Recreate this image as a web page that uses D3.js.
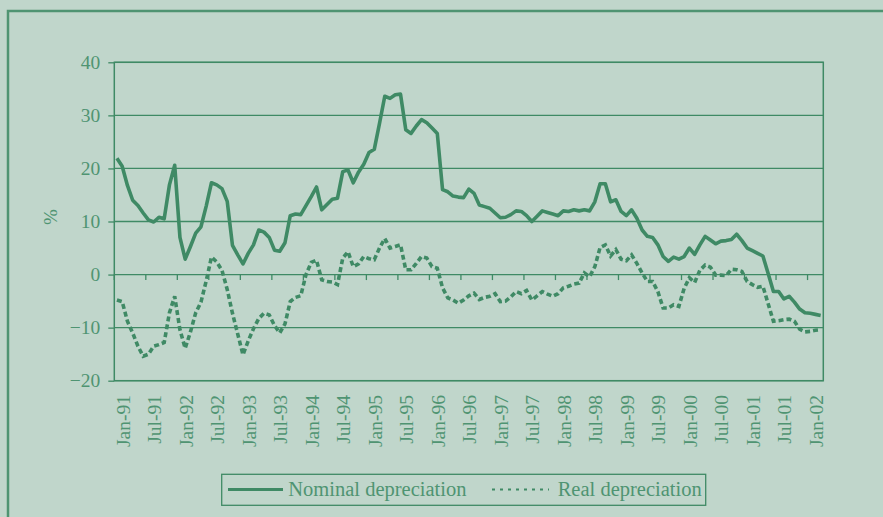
<!DOCTYPE html>
<html>
<head>
<meta charset="utf-8">
<script src="https://cdn.jsdelivr.net/npm/d3@7"></script>
<style>
  body { margin: 0; background: #c0d6cb; }
  text { font-family: "Liberation Serif", "Times New Roman", serif; }
</style>
</head>
<body>
<div id="chart"></div>
<script>
// monthly categories, Jan-91 .. Mar-02
var months = d3.timeMonth.range(new Date(1991, 0, 1), new Date(2002, 3, 1));
var fmt = d3.timeFormat("%b-%y");

var nominal = [
  21.9, 20.4, 16.8, 14.0, 13.0, 11.6, 10.3, 9.9, 10.8, 10.5, 16.9, 20.6,
  7.0, 2.9, 5.3, 7.8, 9.0, 12.9, 17.3, 16.9, 16.2, 13.8, 5.5, 3.7,
  2.0, 4.0, 5.6, 8.4, 8.0, 7.0, 4.6, 4.4, 6.0, 11.1, 11.4, 11.3,
  13.0, 14.7, 16.5, 12.2, 13.2, 14.2, 14.4, 19.4, 19.7, 17.3, 19.3, 20.8,
  23.0, 23.6, 28.5, 33.6, 33.2, 33.9, 34.0, 27.3, 26.6, 28.0, 29.2, 28.6,
  27.6, 26.6, 16.0, 15.6, 14.8, 14.6, 14.5, 16.1, 15.3, 13.1, 12.8, 12.5,
  11.6, 10.7, 10.8, 11.3, 12.0, 11.9, 11.1, 10.0, 11.0, 12.0, 11.7, 11.4,
  11.1, 12.0, 11.9, 12.2, 12.0, 12.2, 12.0, 13.7, 17.1, 17.1, 13.7, 14.1,
  11.9, 11.1, 12.2, 10.6, 8.4, 7.2, 7.0, 5.6, 3.4, 2.5, 3.3, 2.9,
  3.4, 5.0, 3.8, 5.6, 7.2, 6.5, 5.8, 6.3, 6.4, 6.6, 7.6, 6.4,
  5.0, 4.5, 4.0, 3.5, 0.2, -3.2, -3.2, -4.6, -4.1, -5.2, -6.5, -7.2,
  -7.3, -7.5, -7.7
];

var real = [
  -4.8, -5.1, -8.8, -11.0, -13.5, -15.4, -15.0, -13.5, -13.2, -12.8, -7.2, -4.1,
  -10.4, -13.9, -10.8, -7.2, -5.2, -1.2, 3.3, 2.4, 0.8, -2.8, -7.3, -11.2,
  -15.1, -12.5, -10.2, -8.3, -7.3, -7.6, -9.6, -11.0, -9.3, -5.1, -4.3, -4.0,
  0.0, 2.3, 2.7, -1.0, -1.3, -1.4, -1.9, 3.1, 4.3, 1.5, 2.0, 3.4,
  3.0, 2.8, 5.0, 6.8, 5.0, 5.3, 5.6, 0.9, 0.9, 2.1, 3.4, 3.1,
  1.5, 1.2, -2.5, -4.4, -4.8, -5.4, -4.8, -4.0, -3.5, -4.7, -4.3, -4.1,
  -3.6, -5.1, -5.0, -4.2, -3.2, -3.6, -3.0, -4.8, -4.0, -3.2, -3.7, -4.1,
  -3.6, -2.5, -2.2, -1.8, -1.6, 0.3, -0.4, 1.5, 5.1, 5.6, 3.5, 4.7,
  2.9, 2.6, 3.7, 2.1, 0.3, -1.3, -1.3, -3.2, -6.3, -6.3, -5.7, -6.0,
  -2.6, -0.6, -1.5, 0.8, 1.8, 1.4, -0.1, -0.1, -0.2, 1.0, 0.9, 0.6,
  -1.3, -1.9, -2.4, -2.2, -5.5, -8.8, -8.7, -8.5, -8.4, -8.8, -10.3, -10.8,
  -10.7, -10.5, -10.4
];

var yTicks = [-20, -10, 0, 10, 20, 30, 40];
var tickMonths = months.filter(function (d, i) { return i % 6 === 0; });
var seriesNames = ["Nominal depreciation", "Real depreciation"];

var width = 883, height = 517;
var lineColor = "#3f8a65";
var textColor = "#4f9472";

var svg = d3.select("#chart").append("svg")
    .attr("width", width)
    .attr("height", height);

// outer frame
svg.append("rect")
    .attr("x", 8).attr("y", 11)
    .attr("width", 920).attr("height", 540)
    .attr("fill", "none")
    .attr("stroke", "#4f9472")
    .attr("stroke-width", 2.5);

var x = d3.scaleBand()
    .domain(months)
    .range([114.3, 823.3]);

var y = d3.scaleLinear()
    .domain([-20, 40])
    .range([380.7, 62.3]);

function cx(d) { return x(d) + x.bandwidth() / 2; }

// gridlines
svg.selectAll(".grid")
    .data(yTicks)
    .enter().append("line")
    .attr("x1", 114.3).attr("x2", 823.3)
    .attr("y1", function (d) { return y(d); })
    .attr("y2", function (d) { return y(d); })
    .attr("stroke", lineColor)
    .attr("stroke-width", 1.3);

// plot border
svg.append("rect")
    .attr("x", 114.3).attr("y", 62.3)
    .attr("width", 709).attr("height", 318.4)
    .attr("fill", "none")
    .attr("stroke", lineColor)
    .attr("stroke-width", 1.5);

// y axis
var yAxis = svg.append("g")
    .attr("transform", "translate(114.3,0)")
    .call(d3.axisLeft(y).tickValues(yTicks).tickSize(6).tickPadding(8));
yAxis.select(".domain").remove();
yAxis.selectAll("line").attr("stroke", lineColor).attr("stroke-width", 1.3);
yAxis.selectAll("text")
    .attr("fill", textColor)
    .style("font-family", "Liberation Serif")
    .style("font-size", "19.5px");

svg.append("text")
    .attr("transform", "translate(50,217) rotate(-90)")
    .attr("text-anchor", "middle")
    .attr("dy", "0.35em")
    .attr("fill", textColor)
    .style("font-size", "19px")
    .text("%");

// category tick marks on the zero line
svg.selectAll(".xtick")
    .data(tickMonths)
    .enter().append("line")
    .attr("x1", function (d) { return x(d); })
    .attr("x2", function (d) { return x(d); })
    .attr("y1", y(0))
    .attr("y2", y(0) + 5.5)
    .attr("stroke", lineColor)
    .attr("stroke-width", 1.3);

// category labels
svg.selectAll(".xlab")
    .data(tickMonths)
    .enter().append("text")
    .attr("transform", function (d) { return "translate(" + (cx(d) + 6) + ",395) rotate(-90)"; })
    .attr("text-anchor", "end")
    .attr("dy", "0.35em")
    .attr("fill", textColor)
    .style("font-size", "19.5px")
    .text(function (d) { return fmt(d); });

// lines
var line = d3.line()
    .x(function (d, i) { return cx(months[i]); })
    .y(function (d) { return y(d); });

svg.append("path")
    .datum(real)
    .attr("d", line)
    .attr("fill", "none")
    .attr("stroke", lineColor)
    .attr("stroke-width", 3.6)
    .attr("stroke-dasharray", "5,3");

svg.append("path")
    .datum(nominal)
    .attr("d", line)
    .attr("fill", "none")
    .attr("stroke", lineColor)
    .attr("stroke-width", 3.6)
    .attr("stroke-linejoin", "round");

// legend
svg.append("rect")
    .attr("x", 221.7).attr("y", 474.3)
    .attr("width", 484).attr("height", 31)
    .attr("fill", "none")
    .attr("stroke", lineColor)
    .attr("stroke-width", 1.3);

svg.append("line")
    .attr("x1", 228).attr("x2", 283)
    .attr("y1", 489.5).attr("y2", 489.5)
    .attr("stroke", lineColor)
    .attr("stroke-width", 3);

svg.append("line")
    .attr("x1", 492).attr("x2", 549)
    .attr("y1", 489.5).attr("y2", 489.5)
    .attr("stroke", lineColor)
    .attr("stroke-width", 2)
    .attr("stroke-dasharray", "3,5");

svg.selectAll(".legtext")
    .data(seriesNames)
    .enter().append("text")
    .attr("x", function (d, i) { return i === 0 ? 288.3 : 557.7; })
    .attr("y", 495.5)
    .attr("fill", textColor)
    .style("font-size", "20.5px")
    .text(function (d) { return d; });
</script>
</body>
</html>
